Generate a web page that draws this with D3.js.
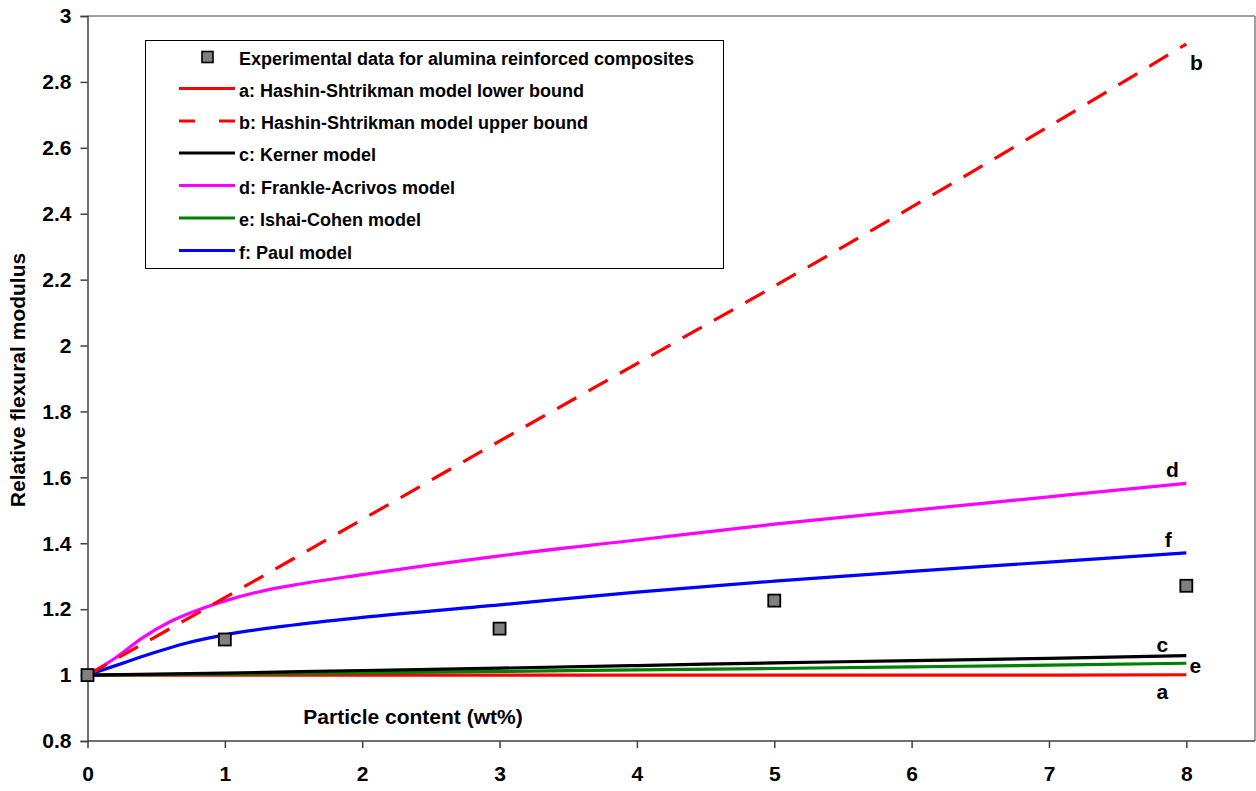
<!DOCTYPE html>
<html><head><meta charset="utf-8">
<script src="https://cdn.jsdelivr.net/npm/d3@7"></script>
<style>body{margin:0;background:#fff}svg{display:block}text{font-family:"Liberation Sans",Arial,sans-serif;font-weight:bold}</style>
</head><body><svg id="c" width="1256" height="791"></svg>
<script>
const xTicks = [0,1,2,3,4,5,6,7,8];
const yTicks = [0.8,1,1.2,1.4,1.6,1.8,2,2.2,2.4,2.6,2.8,3];
const yTickLabels = ["0.8","1","1.2","1.4","1.6","1.8","2","2.2","2.4","2.6","2.8","3"];
const expX = [0,1,3,5,8];
const expY = [1.0,1.108,1.141,1.226,1.271];
const xA = [0,1,2,3,4,5,6,7,8];
const yA = [1,1,1,1,1,1,1,1,1.001];
const xB = [0,1,2,3,4,5,6,7,8];
const yB = [1,1.235,1.472,1.71,1.945,2.18,2.42,2.665,2.915];
const xC = [0,1,2,3,4,5,6,7,8];
const yC = [1,1.006,1.014,1.021,1.029,1.037,1.044,1.051,1.059];
const xD = [0,0.2,0.4,0.6,0.8,1,1.25,1.5,2,3,4,5,6,7,8];
const yD = [1,1.051,1.113,1.162,1.197,1.225,1.253,1.273,1.305,1.362,1.41,1.458,1.5,1.541,1.582];
const xE = [0,1,2,3,4,5,6,7,8];
const yE = [1,1.003,1.007,1.011,1.016,1.02,1.025,1.03,1.036];
const xF = [0,0.22,0.47,0.71,1,1.5,2,3,4,5,6,7,8];
const yF = [1,1.031,1.066,1.096,1.122,1.152,1.175,1.213,1.252,1.285,1.315,1.343,1.371];
const legendLabels = ["Experimental data for alumina reinforced composites","a: Hashin-Shtrikman model lower bound","b: Hashin-Shtrikman model upper bound","c: Kerner model","d: Frankle-Acrivos model","e: Ishai-Cohen model","f: Paul model"];

const svg = d3.select("#c");
const x = d3.scaleLinear().domain([0,8.5]).range([87.5,1255]);
const y = d3.scaleLinear().domain([0.8,3]).range([741,16]);

// frame
svg.append("line").attr("x1",x(0)).attr("x2",x(8.5)).attr("y1",y(3)).attr("y2",y(3)).attr("stroke","#808080").attr("stroke-width",1.5);
svg.append("line").attr("x1",x(8.5)).attr("x2",x(8.5)).attr("y1",y(3)).attr("y2",y(0.8)).attr("stroke","#808080").attr("stroke-width",1.5);

// axes
const yAxis = svg.append("g").attr("transform",`translate(${x(0)},0)`)
  .call(d3.axisLeft(y).tickValues(yTicks).tickSize(7).tickPadding(9).tickFormat((d,i)=>yTickLabels[i]));
const xAxis = svg.append("g").attr("transform",`translate(0,${y(0.8)})`)
  .call(d3.axisBottom(x).tickValues(xTicks).tickSize(7).tickPadding(18).tickFormat(d3.format("d")));
[yAxis,xAxis].forEach(g=>{
  g.select(".domain").attr("stroke","#404040").attr("stroke-width",1.5);
  g.selectAll(".tick line").attr("stroke","#404040").attr("stroke-width",1.5);
  g.selectAll(".tick text").attr("font-size",21).attr("font-family","Liberation Sans, Arial, sans-serif").attr("font-weight","bold").attr("fill","#000");
});
xAxis.select(".domain").attr("d",`M${x(0)},0H${x(8.5)}`);

// titles
svg.append("text").attr("x",413).attr("y",724).attr("text-anchor","middle").attr("font-size",21).text("Particle content (wt%)");
svg.append("text").attr("transform","translate(25,380) rotate(-90)").attr("text-anchor","middle").attr("font-size",21).text("Relative flexural modulus");

// lines
const series = [
  {xs:xA, ys:yA, color:"#ff0000", dash:null},
  {xs:xE, ys:yE, color:"#008000", dash:null},
  {xs:xC, ys:yC, color:"#000000", dash:null},
  {xs:xF, ys:yF, color:"#0000ff", dash:null},
  {xs:xD, ys:yD, color:"#ff00ff", dash:null},
  {xs:xB, ys:yB, color:"#ff0000", dash:"22,14"}
];
const line = d3.line().x(d=>x(d[0])).y(d=>y(d[1])).curve(d3.curveMonotoneX);
series.forEach(s=>{
  svg.append("path").attr("d",line(s.xs.map((v,i)=>[v,s.ys[i]])))
    .attr("fill","none").attr("stroke",s.color).attr("stroke-width",3.2)
    .attr("stroke-dasharray",s.dash);
});

// markers
svg.selectAll(".m").data(expX.map((v,i)=>[v,expY[i]])).enter().append("rect")
  .attr("x",d=>x(d[0])-6).attr("y",d=>y(d[1])-6).attr("width",12).attr("height",12)
  .attr("fill","#808080").attr("stroke","#000").attr("stroke-width",1.8);

// end labels
const lbl = [
  ["b", x(8)+10, y(yB[8])+26],
  ["d", x(8)-14, y(yD[14])-6],
  ["f", x(8)-18, y(yF[12])-6],
  ["c", x(8)-24, y(yC[8])-4],
  ["e", x(8)+9, y(yE[8])+10],
  ["a", x(8)-24, y(yA[8])+24]
];
lbl.forEach(l=>svg.append("text").attr("x",l[1]).attr("y",l[2]).attr("text-anchor","middle").attr("font-size",21).text(l[0]));

// legend
const lg = svg.append("g");
lg.append("rect").attr("x",145.5).attr("y",40.5).attr("width",578).attr("height",228).attr("fill","#fff").attr("stroke","#000").attr("stroke-width",1);
const rowY = [57,88.5,121,153,185.5,218,250.5];
const legStyle = [null,
  {color:"#ff0000",dash:null},{color:"#ff0000",dash:"16,24"},{color:"#000",dash:null},
  {color:"#ff00ff",dash:null},{color:"#008000",dash:null},{color:"#0000ff",dash:null}];
legendLabels.forEach((t,i)=>{
  if(i===0){
    lg.append("rect").attr("x",202).attr("y",rowY[i]-5.5).attr("width",11).attr("height",11).attr("fill","#808080").attr("stroke","#000").attr("stroke-width",1.6);
  } else {
    lg.append("line").attr("x1",179).attr("x2",235).attr("y1",rowY[i]).attr("y2",rowY[i])
      .attr("stroke",legStyle[i].color).attr("stroke-width",3.2).attr("stroke-dasharray",legStyle[i].dash);
  }
  lg.append("text").attr("x",239).attr("y",rowY[i]+8).attr("font-size",18).text(t);
});
</script></body></html>
